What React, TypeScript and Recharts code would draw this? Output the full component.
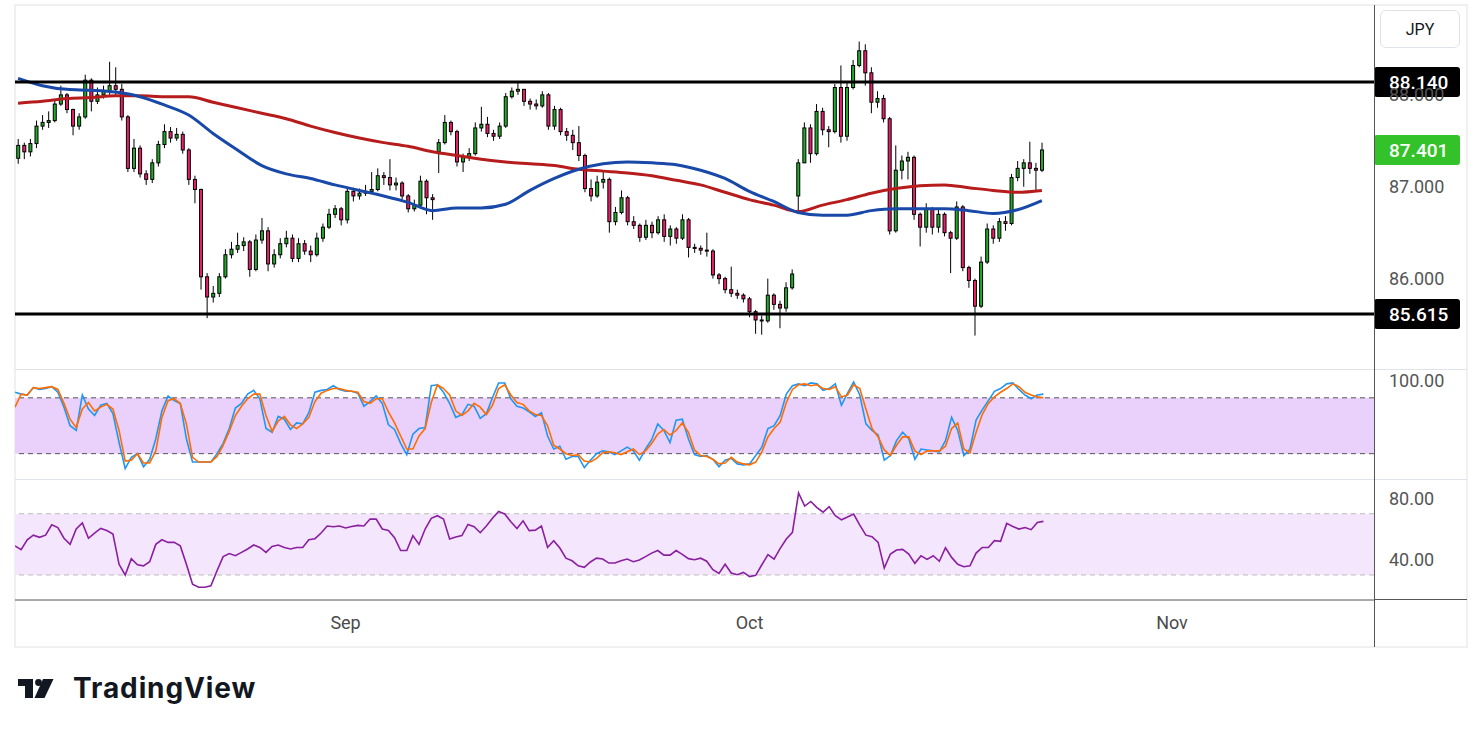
import React from 'react';
import { ComposedChart, Bar, Line, XAxis, YAxis, ReferenceLine, ReferenceArea } from 'recharts';

// 8h candles, one slot per candle; empty slots on the right are future time
const TOTAL_SLOTS = 223;
const MA_STEP = 4;

const monthTicks = [54, 120, 189];
const monthLabels = ['Sep', 'Oct', 'Nov'];
const priceTicks = [86, 87, 88];
const stochTicks = [0, 100];
const rsiTicks = [40, 80];

const resistance = 88.14;
const support = 85.615;
const lastPrice = 87.401;

// [open, high, low, close]
const ohlc: [number, number, number, number][] = [
  [87.31, 87.52, 87.25, 87.45], [87.45, 87.48, 87.30, 87.38], [87.38, 87.52, 87.33, 87.47], [87.47, 87.72, 87.42, 87.66],
  [87.66, 87.78, 87.62, 87.70], [87.70, 87.82, 87.64, 87.72], [87.72, 87.95, 87.70, 87.90], [87.90, 88.10, 87.88, 88.00],
  [88.00, 88.02, 87.80, 87.84], [87.84, 87.85, 87.56, 87.66], [87.66, 87.80, 87.62, 87.76], [87.76, 88.22, 87.74, 88.16],
  [88.16, 88.18, 87.82, 87.93], [87.93, 88.08, 87.90, 88.00], [88.00, 88.10, 87.96, 88.04], [88.04, 88.36, 88.00, 88.10],
  [88.10, 88.30, 87.98, 88.06], [88.06, 88.12, 87.72, 87.76], [87.76, 87.78, 87.16, 87.20], [87.20, 87.52, 87.16, 87.42],
  [87.42, 87.45, 87.10, 87.14], [87.14, 87.18, 87.02, 87.08], [87.08, 87.30, 87.04, 87.26], [87.26, 87.50, 87.22, 87.46],
  [87.46, 87.68, 87.42, 87.60], [87.60, 87.65, 87.48, 87.53], [87.53, 87.64, 87.50, 87.57], [87.57, 87.60, 87.36, 87.40],
  [87.40, 87.42, 87.02, 87.08], [87.08, 87.12, 86.82, 86.97], [86.97, 86.98, 85.88, 86.02], [86.02, 86.06, 85.57, 85.80],
  [85.80, 85.92, 85.74, 85.84], [85.84, 86.06, 85.80, 86.02], [86.02, 86.32, 86.00, 86.26], [86.26, 86.40, 86.22, 86.32],
  [86.32, 86.50, 86.28, 86.36], [86.36, 86.45, 86.30, 86.40], [86.40, 86.42, 86.02, 86.10], [86.10, 86.48, 86.08, 86.42],
  [86.42, 86.66, 86.38, 86.52], [86.52, 86.56, 86.08, 86.16], [86.16, 86.32, 86.12, 86.26], [86.26, 86.44, 86.22, 86.38],
  [86.38, 86.52, 86.34, 86.44], [86.44, 86.48, 86.18, 86.22], [86.22, 86.44, 86.18, 86.38], [86.38, 86.42, 86.26, 86.30],
  [86.30, 86.36, 86.18, 86.26], [86.26, 86.50, 86.24, 86.44], [86.44, 86.60, 86.40, 86.56], [86.56, 86.76, 86.54, 86.70],
  [86.70, 86.80, 86.66, 86.76], [86.76, 86.78, 86.58, 86.64], [86.64, 86.99, 86.60, 86.95], [86.95, 86.99, 86.84, 86.90],
  [86.90, 86.98, 86.86, 86.93], [86.93, 87.02, 86.90, 86.95], [86.95, 87.16, 86.92, 86.97], [86.97, 87.20, 86.95, 87.12],
  [87.12, 87.16, 87.02, 87.10], [87.10, 87.30, 86.96, 87.02], [87.02, 87.10, 86.96, 87.04], [87.04, 87.06, 86.86, 86.90],
  [86.90, 86.92, 86.72, 86.76], [86.76, 86.86, 86.73, 86.80], [86.80, 87.12, 86.78, 87.06], [87.06, 87.08, 86.70, 86.88],
  [86.88, 86.92, 86.64, 86.86], [87.38, 87.52, 87.15, 87.48], [87.48, 87.78, 87.46, 87.70], [87.70, 87.72, 87.56, 87.60],
  [87.60, 87.62, 87.22, 87.27], [87.27, 87.36, 87.16, 87.32], [87.32, 87.42, 87.28, 87.36], [87.36, 87.70, 87.34, 87.64],
  [87.64, 87.87, 87.60, 87.68], [87.68, 87.76, 87.54, 87.58], [87.58, 87.62, 87.50, 87.55], [87.55, 87.70, 87.52, 87.66],
  [87.66, 88.02, 87.64, 87.98], [87.98, 88.08, 87.96, 88.04], [88.04, 88.13, 88.00, 88.06], [88.06, 88.06, 87.88, 87.93],
  [87.93, 87.96, 87.84, 87.90], [87.90, 87.95, 87.84, 87.88], [87.88, 88.04, 87.86, 88.00], [88.00, 88.02, 87.62, 87.66],
  [87.66, 87.88, 87.62, 87.84], [87.84, 87.86, 87.56, 87.60], [87.60, 87.64, 87.50, 87.56], [87.56, 87.62, 87.40, 87.48],
  [87.48, 87.66, 87.28, 87.34], [87.34, 87.36, 86.94, 86.98], [86.98, 87.08, 86.84, 86.90], [86.90, 87.12, 86.88, 87.05],
  [87.05, 87.16, 86.98, 87.08], [87.08, 87.10, 86.50, 86.62], [86.62, 86.78, 86.58, 86.72], [86.72, 86.96, 86.70, 86.88],
  [86.88, 86.90, 86.58, 86.62], [86.62, 86.68, 86.54, 86.58], [86.58, 86.60, 86.40, 86.45], [86.45, 86.64, 86.42, 86.58],
  [86.58, 86.62, 86.44, 86.50], [86.50, 86.68, 86.48, 86.64], [86.64, 86.70, 86.40, 86.46], [86.46, 86.58, 86.36, 86.54],
  [86.54, 86.56, 86.38, 86.44], [86.44, 86.70, 86.42, 86.64], [86.64, 86.66, 86.23, 86.34], [86.34, 86.38, 86.28, 86.33],
  [86.33, 86.36, 86.26, 86.31], [86.31, 86.50, 86.24, 86.30], [86.30, 86.32, 86.00, 86.04], [86.04, 86.06, 85.94, 86.00],
  [86.00, 86.02, 85.84, 85.88], [85.88, 86.13, 85.80, 85.84], [85.84, 85.88, 85.78, 85.82], [85.82, 85.84, 85.74, 85.78],
  [85.78, 85.80, 85.58, 85.64], [85.64, 85.66, 85.40, 85.55], [85.55, 85.60, 85.39, 85.54], [85.54, 86.00, 85.52, 85.82],
  [85.82, 85.84, 85.66, 85.72], [85.72, 85.76, 85.46, 85.68], [85.68, 85.96, 85.64, 85.90], [85.90, 86.10, 85.88, 86.05],
  [86.90, 87.30, 86.73, 87.26], [87.26, 87.70, 87.26, 87.64], [87.64, 87.68, 87.26, 87.36], [87.36, 87.90, 87.34, 87.82],
  [87.82, 87.86, 87.56, 87.62], [87.62, 87.66, 87.43, 87.60], [87.60, 88.12, 87.58, 88.08], [88.08, 88.32, 87.48, 87.55],
  [87.55, 88.14, 87.50, 88.08], [88.08, 88.38, 88.06, 88.32], [88.32, 88.58, 88.30, 88.48], [88.48, 88.55, 88.10, 88.24],
  [88.24, 88.30, 87.80, 87.92], [87.92, 88.04, 87.86, 87.96], [87.96, 88.00, 87.70, 87.74], [87.74, 87.76, 86.48, 86.52],
  [86.52, 87.45, 86.50, 87.18], [87.18, 87.34, 87.08, 87.28], [87.28, 87.38, 87.08, 87.32], [87.32, 87.34, 86.64, 86.70],
  [86.70, 86.72, 86.35, 86.56], [86.56, 86.82, 86.50, 86.76], [86.76, 86.78, 86.48, 86.56], [86.56, 86.76, 86.50, 86.70],
  [86.70, 86.72, 86.46, 86.50], [86.50, 86.52, 86.06, 86.44], [86.44, 86.84, 86.42, 86.78], [86.78, 86.80, 86.08, 86.12],
  [86.12, 86.14, 85.90, 85.98], [85.98, 86.00, 85.38, 85.70], [85.70, 86.24, 85.68, 86.18], [86.18, 86.60, 86.16, 86.54],
  [86.54, 86.58, 86.38, 86.44], [86.44, 86.66, 86.40, 86.62], [86.62, 86.68, 86.52, 86.60], [86.60, 87.14, 86.58, 87.10],
  [87.10, 87.28, 87.06, 87.20], [87.20, 87.30, 87.00, 87.26], [87.26, 87.49, 87.14, 87.20], [87.20, 87.26, 86.96, 87.18],
  [87.18, 87.48, 87.16, 87.40],
];

// blue (faster) and red (slower) moving averages, one reading every MA_STEP candles
const maFast = [
  88.18, 88.10, 88.06, 88.05, 88.03, 87.98, 87.89, 87.78, 87.58, 87.40, 87.23, 87.14, 87.09, 87.02, 86.96,
  86.90, 86.83, 86.74, 86.77, 86.77, 86.81, 86.96, 87.09, 87.19, 87.25, 87.27, 87.26, 87.24, 87.18, 87.09,
  86.95, 86.84, 86.72, 86.69, 86.69, 86.74, 86.76, 86.76, 86.76, 86.74, 86.71, 86.75, 86.85,
];
const maSlow = [
  87.91, 87.93, 87.96, 87.97, 87.99, 87.99, 87.98, 87.98, 87.92, 87.86, 87.80, 87.74, 87.66, 87.59, 87.53,
  87.48, 87.44, 87.38, 87.34, 87.30, 87.27, 87.25, 87.23, 87.19, 87.17, 87.15, 87.12, 87.07, 87.02, 86.94,
  86.86, 86.80, 86.73, 86.80, 86.86, 86.93, 86.98, 87.01, 87.02, 86.99, 86.96, 86.94, 86.96,
];

const stochK = [
  86, 84, 83, 91, 89, 90, 92, 86, 70, 50, 45, 83, 68, 61, 72, 74, 63, 32, 4, 16,
  20, 6, 14, 36, 66, 82, 77, 74, 36, 11, 11, 11, 11, 20, 31, 47, 69, 74, 84, 88,
  79, 47, 43, 60, 57, 46, 53, 52, 64, 86, 88, 89, 93, 89, 87, 87, 85, 71, 76, 82,
  74, 51, 46, 31, 19, 41, 47, 48, 93, 94, 86, 74, 59, 62, 73, 71, 58, 63, 80, 96,
  96, 79, 71, 69, 65, 60, 64, 39, 25, 28, 14, 17, 17, 5, 13, 20, 23, 22, 19, 23,
  27, 23, 13, 25, 35, 52, 45, 32, 56, 57, 36, 19, 17, 18, 14, 6, 13, 15, 9, 8,
  9, 18, 27, 47, 50, 61, 84, 93, 95, 93, 96, 95, 88, 90, 95, 72, 85, 97, 83, 52,
  45, 40, 13, 18, 34, 43, 36, 14, 25, 24, 23, 22, 34, 59, 45, 18, 25, 56, 67, 77,
  87, 90, 95, 96, 89, 83, 79, 83, 84,
];
const stochD = [
  70, 84, 83, 91, 90, 91, 92, 89, 74, 57, 48, 68, 75, 66, 70, 73, 68, 45, 12, 13,
  20, 10, 10, 23, 59, 77, 79, 74, 52, 16, 11, 11, 11, 17, 29, 44, 61, 71, 79, 84,
  84, 61, 44, 55, 60, 51, 47, 52, 59, 76, 85, 88, 90, 90, 88, 87, 86, 76, 74, 79,
  79, 65, 53, 39, 25, 25, 39, 47, 75, 94, 90, 83, 66, 61, 66, 74, 70, 62, 72, 90,
  94, 83, 75, 73, 66, 62, 61, 50, 29, 25, 20, 18, 19, 12, 11, 15, 21, 22, 21, 19,
  22, 25, 19, 23, 31, 41, 46, 40, 45, 53, 43, 24, 18, 17, 14, 9, 10, 16, 11, 9,
  8, 11, 22, 38, 47, 54, 75, 89, 94, 95, 93, 94, 90, 89, 92, 81, 83, 94, 90, 68,
  47, 38, 24, 18, 29, 38, 38, 23, 19, 23, 23, 23, 28, 47, 53, 25, 21, 43, 62, 74,
  81, 86, 90, 95, 92, 86, 83, 81, 80,
];
const rsi = [
  49, 46.5, 53, 56, 54.6, 56, 62.8, 61, 54, 50, 60, 64, 54, 57.4, 60.4, 59, 56.7, 37, 30, 40.7,
  36.7, 36, 38.7, 50, 53, 51.3, 51.3, 49, 37, 24, 22, 22, 23, 32.8, 42, 44, 42.6, 44.8, 47, 49.6,
  48, 44.8, 48.7, 49.6, 48, 47, 48, 48, 53, 53.7, 57.4, 62, 61.5, 62, 60.7, 61.7, 62.4, 62, 66.5, 66.5,
  60, 59, 54.3, 46, 46, 55.7, 50, 60, 67, 68.7, 66.5, 53.5, 54.8, 55.7, 63, 61.5, 57.6, 62, 67, 71.5,
  69.8, 64.8, 60.4, 65.4, 59, 59.3, 62, 48, 52.4, 47.6, 41, 39.3, 36, 35, 38.5, 41, 40.4, 37.8, 37.8, 39.3,
  40.4, 38.7, 39.8, 42, 44.3, 46, 43, 43, 46, 43.5, 40.7, 40, 41, 39, 33.5, 31, 37, 31.3, 30.2, 31.7,
  29, 29.8, 36.7, 43.3, 40.4, 47.4, 53.5, 57.8, 83.5, 75, 78, 74, 71, 74.6, 68.7, 66, 67.8, 69.8, 62.6, 56,
  55, 51.3, 34.6, 43.7, 46.3, 46.7, 43.7, 37.6, 42.6, 40.2, 42.6, 39, 47.8, 41.5, 37, 35.4, 36, 44.3, 48, 48,
  52.4, 52, 63.7, 61.7, 60, 61, 59.6, 64.3, 65,
];

const UP = '#22ab2a';
const DOWN = '#ec1e6a';
const FONT = 'Roboto, "Noto Sans", sans-serif';
const TICK = { fontSize: 18, fill: '#555', fontFamily: FONT };

const rows = Array.from({ length: TOTAL_SLOTS }, (_, i) => {
  const c = ohlc[i];
  const m = i % MA_STEP === 0 ? i / MA_STEP : -1;
  return {
    idx: i,
    o: c ? c[0] : null,
    h: c ? c[1] : null,
    l: c ? c[2] : null,
    c: c ? c[3] : null,
    range: c ? [c[2], c[1]] : null,
    fast: m >= 0 && maFast[m] != null ? maFast[m] : null,
    slow: m >= 0 && maSlow[m] != null ? maSlow[m] : null,
    k: stochK[i] ?? null,
    d: stochD[i] ?? null,
    rsi: rsi[i] ?? null,
  };
});

function Candle(props: any) {
  const { x, y, width, height, payload } = props;
  if (!payload || payload.o == null) return null;
  const { o, h, l, c } = payload;
  const top = Math.min(y, y + height);
  const span = Math.abs(height);
  const k = h - l > 0 ? span / (h - l) : 0;
  const py = (v: number) => top + (h - v) * k;
  const cx = x + width / 2;
  const bodyTop = py(Math.max(o, c));
  const bodyH = Math.max(1, Math.abs(py(o) - py(c)));
  return (
    <g>
      <line x1={cx} x2={cx} y1={top} y2={top + span} stroke="#000" strokeWidth={1} />
      <rect x={x} y={bodyTop} width={width} height={bodyH} fill={c >= o ? UP : DOWN} stroke="#000" strokeWidth={1} />
    </g>
  );
}

function PriceTag({ viewBox, text, fill }: any) {
  if (!viewBox) return null;
  const x = viewBox.x + viewBox.width;
  const y = viewBox.y;
  return (
    <g>
      <rect x={x} y={y - 15} width={86} height={30} rx={3} fill={fill} />
      <text x={x + 15} y={y} dy="0.36em" fill="#fff" fontSize={19} fontWeight={500} fontFamily={FONT}>
        {text}
      </text>
    </g>
  );
}

const margin = { top: 0, right: 0, bottom: 0, left: 0 };

function TvLogo() {
  return (
    <svg width={300} height={50} style={{ position: 'absolute', left: 0, top: 670 }}>
      <g fill="#131722">
        <rect x={18} y={9} width={15} height={7} />
        <rect x={25} y={9} width={8} height={19} />
        <circle cx={38.5} cy={12.5} r={3.4} />
        <polygon points="43,9 53.5,9 44.5,28 34.5,28" />
        <text x={73} y={28} fontSize={28} fontWeight={700} fontFamily="Inter, Roboto, sans-serif" letterSpacing={0.9}>
          TradingView
        </text>
      </g>
    </svg>
  );
}

export default function App() {
  return (
    <div style={{ position: 'absolute', left: 0, top: 0, width: 1482, height: 737, background: '#fff', fontFamily: FONT }}>
      <div style={{ position: 'absolute', left: 14, top: 4, width: 1454, height: 644, border: '2px solid #f0f0f0', boxSizing: 'border-box' }} />

      {/* price pane */}
      <div style={{ position: 'absolute', left: 15, top: 5 }}>
        <ComposedChart width={1452} height={364.5} data={rows} margin={margin} barCategoryGap="28%">
          <XAxis dataKey="idx" type="category" hide />
          <YAxis
            orientation="right"
            width={93}
            domain={[85.011, 88.978]}
            allowDataOverflow
            ticks={priceTicks}
            tickFormatter={(v: number) => v.toFixed(3)}
            tick={TICK}
            tickLine={false}
            tickMargin={9}
            axisLine={false}
          />
          <Bar dataKey="range" shape={<Candle />} isAnimationActive={false} />
          <Line dataKey="slow" type="monotone" stroke="#b71c1c" strokeWidth={3} dot={false} connectNulls isAnimationActive={false} />
          <Line dataKey="fast" type="monotone" stroke="#1848a8" strokeWidth={3} dot={false} connectNulls isAnimationActive={false} />
          <ReferenceLine y={resistance} stroke="#000" strokeWidth={3}
            label={(p: any) => <PriceTag viewBox={p.viewBox} text={resistance.toFixed(3)} fill="#000" />} />
          <ReferenceLine y={support} stroke="#000" strokeWidth={3}
            label={(p: any) => <PriceTag viewBox={p.viewBox} text={support.toFixed(3)} fill="#000" />} />
          <ReferenceLine y={lastPrice} stroke="none"
            label={(p: any) => <PriceTag viewBox={p.viewBox} text={lastPrice.toFixed(3)} fill="#34c22a" />} />
        </ComposedChart>
      </div>

      {/* stochastic pane */}
      <div style={{ position: 'absolute', left: 15, top: 369.5 }}>
        <ComposedChart width={1452} height={110} data={rows} margin={margin}>
          <XAxis dataKey="idx" type="category" hide />
          <YAxis
            orientation="right"
            width={93}
            domain={[-8.3, 109.9]}
            allowDataOverflow
            ticks={stochTicks}
            tickFormatter={(v: number) => v.toFixed(2)}
            tick={TICK}
            tickLine={false}
            tickMargin={9}
            axisLine={false}
          />
          <ReferenceArea y1={20} y2={80} fill="#e9d1fc" fillOpacity={1} stroke="none" />
          <ReferenceLine y={80} stroke="#555" strokeDasharray="5 4" />
          <ReferenceLine y={20} stroke="#555" strokeDasharray="5 4" />
          <Line dataKey="k" stroke="#2196f3" strokeWidth={1.6} dot={false} isAnimationActive={false} />
          <Line dataKey="d" stroke="#ff6d00" strokeWidth={1.6} dot={false} isAnimationActive={false} />
        </ComposedChart>
      </div>

      {/* RSI pane + time axis */}
      <div style={{ position: 'absolute', left: 15, top: 479.5 }}>
        <ComposedChart width={1452} height={167.5} data={rows} margin={margin}>
          <XAxis
            dataKey="idx"
            type="category"
            height={47.5}
            ticks={monthTicks}
            interval={0}
            tickFormatter={(v: number) => monthLabels[monthTicks.indexOf(v)] ?? ''}
            tick={{ ...TICK, fontSize: 18, fill: '#4a4a4a' }}
            tickLine={false}
            tickMargin={10}
            axisLine={{ stroke: '#555' }}
          />
          <YAxis
            orientation="right"
            width={93}
            domain={[13.7, 92]}
            allowDataOverflow
            ticks={rsiTicks}
            tickFormatter={(v: number) => v.toFixed(2)}
            tick={TICK}
            tickLine={false}
            tickMargin={9}
            axisLine={false}
          />
          <ReferenceArea y1={30} y2={70} fill="#f3e6fd" fillOpacity={1} stroke="none" />
          <ReferenceLine y={70} stroke="#bdbdbd" strokeDasharray="5 4" />
          <ReferenceLine y={30} stroke="#bdbdbd" strokeDasharray="5 4" />
          <Line dataKey="rsi" stroke="#8a1fa0" strokeWidth={1.6} dot={false} isAnimationActive={false} />
        </ComposedChart>
      </div>

      {/* pane separators and axis rules */}
      <div style={{ position: 'absolute', left: 15, top: 368.5, width: 1452, height: 1.5, background: '#e0e3eb' }} />
      <div style={{ position: 'absolute', left: 15, top: 478.5, width: 1452, height: 1.5, background: '#e0e3eb' }} />
      <div style={{ position: 'absolute', left: 1374, top: 598.5, width: 93, height: 1, background: '#555' }} />
      <div style={{ position: 'absolute', left: 1374, top: 5, width: 1, height: 642, background: '#555' }} />

      <div
        style={{
          position: 'absolute', left: 1380, top: 10, width: 80, height: 38, boxSizing: 'border-box',
          border: '1px solid #e0e3eb', borderRadius: 6, display: 'flex', alignItems: 'center',
          justifyContent: 'center', fontSize: 16, color: '#131722', fontFamily: FONT,
        }}
      >
        JPY
      </div>

      <TvLogo />
    </div>
  );
}
